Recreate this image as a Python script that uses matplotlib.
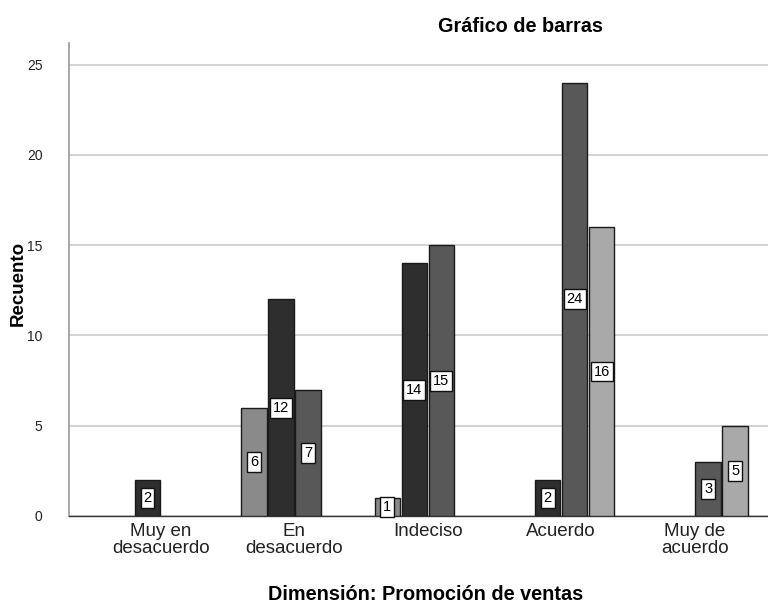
import matplotlib
matplotlib.use("Agg")
import matplotlib.pyplot as plt
import numpy as np

plt.rcParams["font.family"] = ["Liberation Sans", "DejaVu Sans"]

categorias = ["Muy en\ndesacuerdo", "En\ndesacuerdo", "Indeciso", "Acuerdo", "Muy de\nacuerdo"]

# conteos por grupo (0 = sin barra)
grupo1 = [0, 6, 1, 0, 0]
grupo2 = [2, 12, 14, 2, 0]
grupo3 = [0, 7, 15, 24, 3]
grupo4 = [0, 0, 0, 16, 5]

series = [grupo1, grupo2, grupo3, grupo4]
colores = ["#8a8a8a", "#2e2e2e", "#585858", "#a9a9a9"]

fig = plt.figure(figsize=(7.68, 6.03), dpi=100)
ax = fig.add_axes([0.0898, 0.1443, 0.9102, 0.7844])

x = np.arange(len(categorias))
ancho = 0.2025
for i, (vals, col) in enumerate(zip(series, colores)):
    off = (i - 1.5) * ancho
    for xi, v in zip(x, vals):
        if v == 0:
            continue
        ax.bar(xi + off, v, width=ancho * 0.94, color=col, edgecolor="#1a1a1a",
               linewidth=1.0, zorder=3)
        ax.text(xi + off, v / 2, str(v), ha="center", va="center", fontsize=10.5,
                zorder=4,
                bbox=dict(boxstyle="square,pad=0.2", fc="white", ec="#111111", lw=1.0))

ax.set_xlim(-0.69, 4.55)
ax.set_ylim(0, 26.2)
ax.set_yticks([0, 5, 10, 15, 20, 25])
ax.set_xticks(x)
ax.set_xticklabels(categorias, fontsize=13.5, color="#222222", linespacing=1.0)
ax.tick_params(axis="x", length=0, pad=5)
ax.tick_params(axis="y", length=0, pad=19, labelsize=10, labelcolor="#222222")

ax.yaxis.grid(True, color="#cccccc", linewidth=1.2, zorder=0)
ax.set_axisbelow(True)
for s in ["top", "right"]:
    ax.spines[s].set_visible(False)
ax.spines["left"].set_color("#999999")
ax.spines["left"].set_linewidth(1.2)
ax.spines["bottom"].set_color("#333333")
ax.spines["bottom"].set_linewidth(1.0)

fig.text(18 / 768, 1 - 283 / 603, "Recuento", rotation=90, ha="center", va="center",
         fontsize=13.5, fontweight="bold")
fig.text(426 / 768, 1 - 594 / 603, "Dimensión: Promoción de ventas", ha="center",
         va="center", fontsize=14.3, fontweight="bold")
fig.text(520 / 768, 1 - 27 / 603, "Gráfico de barras", ha="center", va="center",
         fontsize=14.3, fontweight="bold")

fig.savefig("out.png", dpi=100)
